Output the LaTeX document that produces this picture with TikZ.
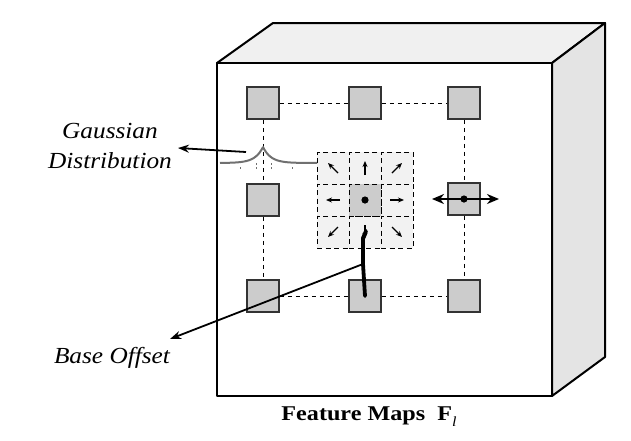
\documentclass[tikz,border=0pt]{standalone}
\usepackage{fontspec}
\setmainfont{Liberation Serif}
\usepackage{graphicx}
\usetikzlibrary{arrows.meta}
\definecolor{sqgray}{HTML}{CCCCCC}
\definecolor{sqedge}{HTML}{333333}
\definecolor{topgray}{HTML}{F0F0F0}
\definecolor{sidegray}{HTML}{E4E4E4}
\definecolor{cellgray}{HTML}{F2F2F2}
\definecolor{curvegray}{HTML}{707070}
\tikzset{
  sq/.style={draw=sqedge, fill=sqgray, line width=1.5pt, minimum size=32pt, inner sep=0pt},
  cell/.style={draw=black, fill=cellgray, dashed, dash pattern=on 5pt off 3.5pt, line width=0.9pt, minimum size=32pt, inner sep=0pt},
  ccell/.style={cell, fill=sqgray},
  dashline/.style={draw=black, line width=1pt, dash pattern=on 4pt off 4pt},
  boxline/.style={draw=black, line width=2pt, line join=round},
  smallarrow/.style={-{Stealth[length=6pt,width=5pt]}, line width=1.2pt},
  label/.style={font=\fontsize{23}{30}\selectfont\itshape, align=center, inner sep=0pt},
  pointer/.style={-{Stealth[length=11pt,width=8pt]}, line width=1.8pt},
}
\begin{document}
\begin{tikzpicture}[x=1pt,y=-1pt]
\useasboundingbox (0,0) rectangle (631,440);
% box
\filldraw[boxline, fill=topgray] (217,63) -- (273,23) -- (605,23) -- (552,63) -- cycle;
\filldraw[boxline, fill=sidegray] (552,63) -- (605,23) -- (605,357) -- (552,396) -- cycle;
\filldraw[boxline, fill=white] (217,63) rectangle (552,396);
% squares
\node[sq] (tl) at (263,103) {};
\node[sq] (tm) at (365,103) {};
\node[sq] (tr) at (464,103) {};
\node[sq] (ml) at (263,200) {};
\node[sq] (mr) at (464,199) {};
\node[sq] (bl) at (263,296) {};
\node[sq] (bm) at (365,296) {};
\node[sq] (br) at (464,296) {};
\draw[dashline] (tl) -- (tm);
\draw[dashline] (tm) -- (tr);
\draw[dashline] (tl) -- (ml);
\draw[dashline] (ml) -- (bl);
\draw[dashline] (tr) -- (mr);
\draw[dashline] (mr) -- (br);
\draw[dashline] (bl) -- (bm);
\draw[dashline] (bm) -- (br);
% grid
\node[cell] (c11) at (333,168) {};
\node[cell] (c12) at (365,168) {};
\node[cell] (c13) at (397,168) {};
\node[cell] (c21) at (333,200) {};
\node[cell] (c23) at (397,200) {};
\node[cell] (c31) at (333,232) {};
\node[cell] (c32) at (365,232) {};
\node[cell] (c33) at (397,232) {};
\node[ccell] (c22) at (365,200) {};
\fill (c22.center) circle (3.6pt);
\draw[smallarrow] ([shift={(5,5)}]c11.center) -- ([shift={(-5,-5)}]c11.center);
\draw[smallarrow] ([shift={(0,7)}]c12.center) -- ([shift={(0,-7)}]c12.center);
\draw[smallarrow] ([shift={(-5,5)}]c13.center) -- ([shift={(5,-5)}]c13.center);
\draw[smallarrow] ([shift={(7,0)}]c21.center) -- ([shift={(-7,0)}]c21.center);
\draw[smallarrow] ([shift={(-7,0)}]c23.center) -- ([shift={(7,0)}]c23.center);
\draw[smallarrow] ([shift={(5,-5)}]c31.center) -- ([shift={(-5,5)}]c31.center);
\draw[smallarrow] ([shift={(0,-7)}]c32.center) -- ([shift={(0,7)}]c32.center);
\draw[smallarrow] ([shift={(-5,-5)}]c33.center) -- ([shift={(5,5)}]c33.center);
% gaussian curve
\draw[curvegray, line width=2pt] plot[domain=220:317, samples=120] (\x, {163-16*exp(-abs(\x-263)/8)});
\foreach \tx in {256,271} \draw[curvegray, line width=1pt, dash pattern=on 2pt off 2pt] (\tx,163) -- (\tx,170);
\foreach \tx in {240,292} \draw[curvegray, line width=1pt] (\tx,167) -- (\tx,169);
% right double arrow
\draw[{Stealth[length=12pt,width=10pt]}-{Stealth[length=12pt,width=10pt]}, line width=2pt] (432,199) -- (499,199);
\fill (mr.center) circle (3.6pt);
% base offset thick line
\coordinate (kink) at (363,264);
\draw[line width=3.8pt, line cap=round, line join=round] (366,231) -- (363,238) -- (kink) -- (bm.center);
% labels
\node[label] (gd) at (110,147) {\scalebox{1.1}[1]{\begin{tabular}{@{}c@{}}Gaussian\\Distribution\end{tabular}}};
\node[label, anchor=base] (bo) at (112,363) {\scalebox{1.1}[1]{Base Offset}};
\coordinate (gstart) at (246,152);
\draw[pointer] (gstart) -- (178,148);
\draw[pointer] (kink) -- (170,339);
\node[anchor=base, inner sep=0pt, font=\fontsize{21}{24}\selectfont\bfseries] (title) at (369,420) {\scalebox{1.15}[1]{Feature Maps~~F\raisebox{-0.3em}{\fontsize{14}{14}\selectfont\mdseries\itshape l}}};
\end{tikzpicture}
\end{document}
